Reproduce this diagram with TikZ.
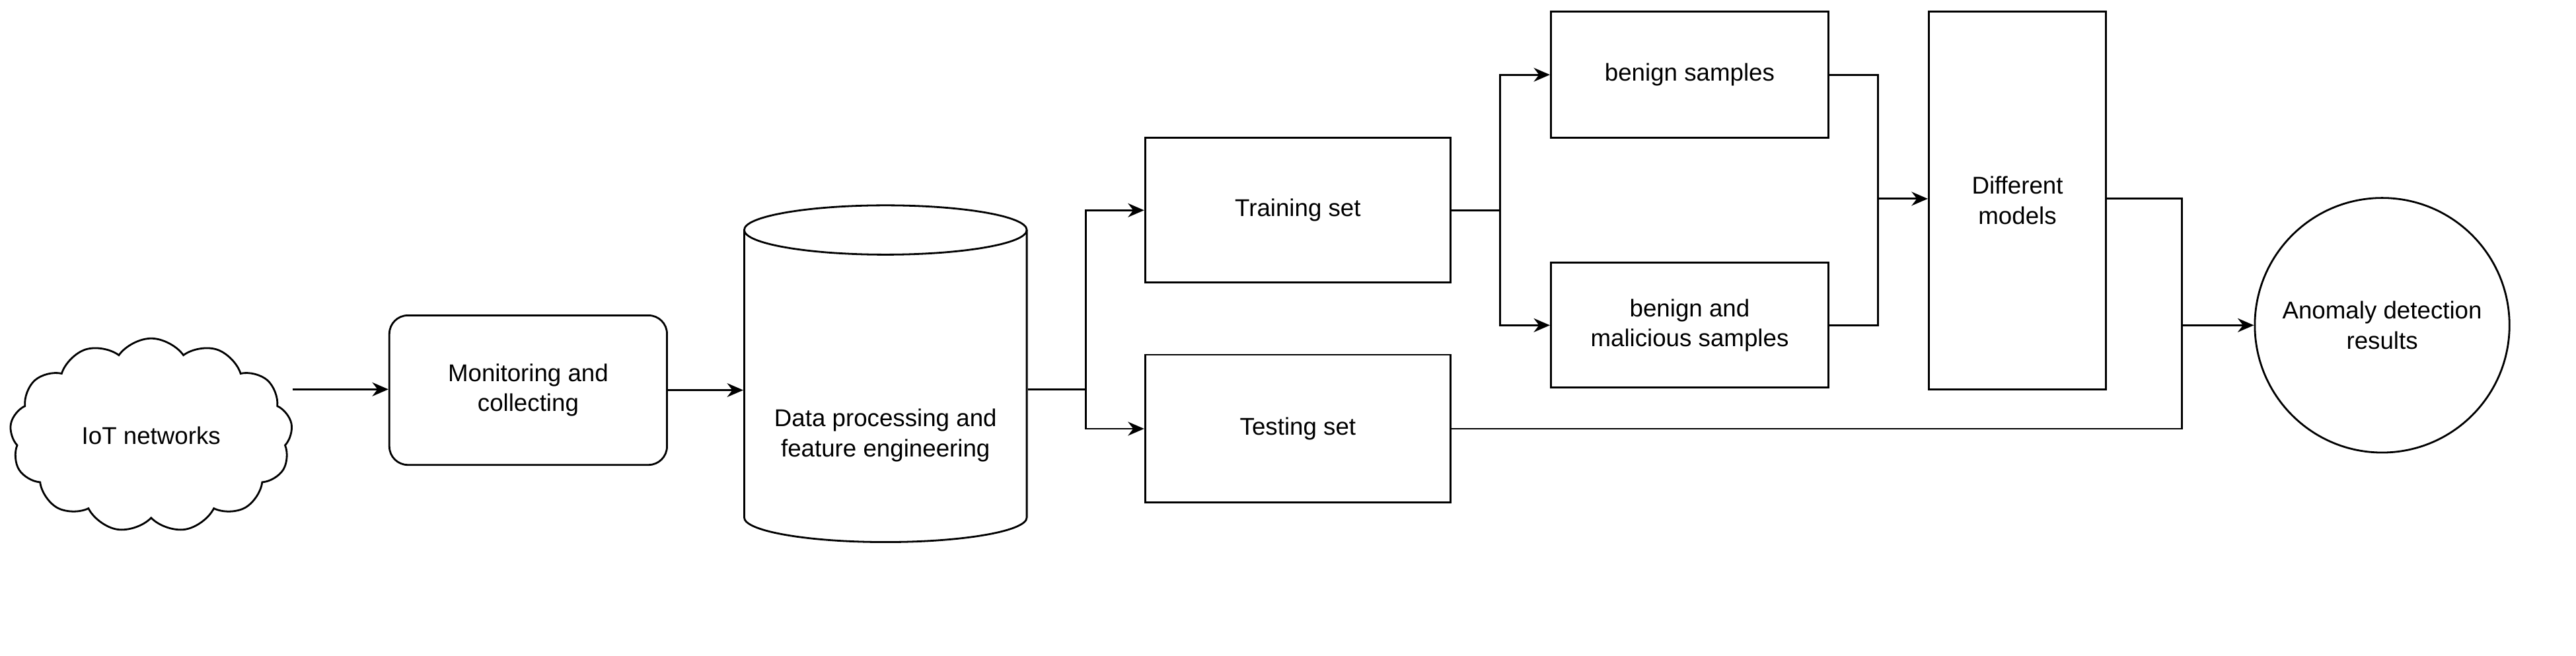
\documentclass[tikz,border=0pt]{standalone}
\usepackage{fontspec}
\setmainfont{Liberation Sans}
\usetikzlibrary{shapes.symbols,arrows.meta}
\begin{document}
\begin{tikzpicture}[x=0.025cm,y=-0.025cm,line width=0.8pt,
  every node/.style={font=\fontsize{10.5}{13}\selectfont,align=center},
  arr/.style={-{Stealth[length=7pt,width=6pt]}}]
\useasboundingbox (0,0) rectangle (1568,399);
\node[draw,cloud,cloud puffs=13,cloud puff arc=110,aspect=1.5,minimum width=172*0.025cm,minimum height=118*0.025cm] (iot) at (92,265) {IoT networks};
\node[draw,rounded corners=8pt,minimum width=169*0.025cm,minimum height=91*0.025cm] (mon) at (321.5,237.5) {Monitoring and\\collecting};
% cylinder
\draw (453,140) -- (453,315) arc[start angle=180,end angle=0,x radius=86,y radius=15] -- (625,140);
\draw (539,140) ellipse[x radius=86,y radius=15];
\node[minimum width=172*0.025cm,minimum height=10*0.025cm,inner sep=0pt] (cyl) at (539,237) {};
\node at (539,265) {Data processing and\\feature engineering};
\node[draw,minimum width=186*0.025cm,minimum height=88*0.025cm] (train) at (790,128) {Training set};
\node[draw,minimum width=186*0.025cm,minimum height=90*0.025cm] (test) at (790,261) {Testing set};
\node[draw,minimum width=169*0.025cm,minimum height=77*0.025cm] (ben) at (1028.5,45.5) {benign samples};
\node[draw,minimum width=169*0.025cm,minimum height=76*0.025cm] (mal) at (1028.5,198) {benign and\\malicious samples};
\node[draw,minimum width=108*0.025cm,minimum height=230*0.025cm] (mod) at (1228,122) {Different\\models};
\node[draw,circle,minimum size=155*0.025cm] (res) at (1450,198) {Anomaly detection\\results};
\coordinate (c0) at (178,237);
\coordinate (j1) at (661,237);
\coordinate (j2) at (913,128);
\coordinate (j3) at (1143,121);
\coordinate (j4) at (1328,198);
\draw[arr] (c0) -- (c0 -| mon.west);
\draw[arr] (mon.east) -- (mon.east -| cyl.west);
\draw (cyl.east) -- (j1);
\draw[arr] (j1) |- (train.west);
\draw[arr] (j1) |- (test.west);
\draw (train.east) -- (j2);
\draw[arr] (j2) |- (ben.west);
\draw[arr] (j2) |- (mal.west);
\draw (ben.east) -| (j3);
\draw (mal.east) -| (j3);
\draw[arr] (j3) -- (j3 -| mod.west);
\draw (mod.east |- j3) -| (j4);
\draw (test.east) -| (j4);
\draw[arr] (j4) -- (res.west);
\end{tikzpicture}
\end{document}
